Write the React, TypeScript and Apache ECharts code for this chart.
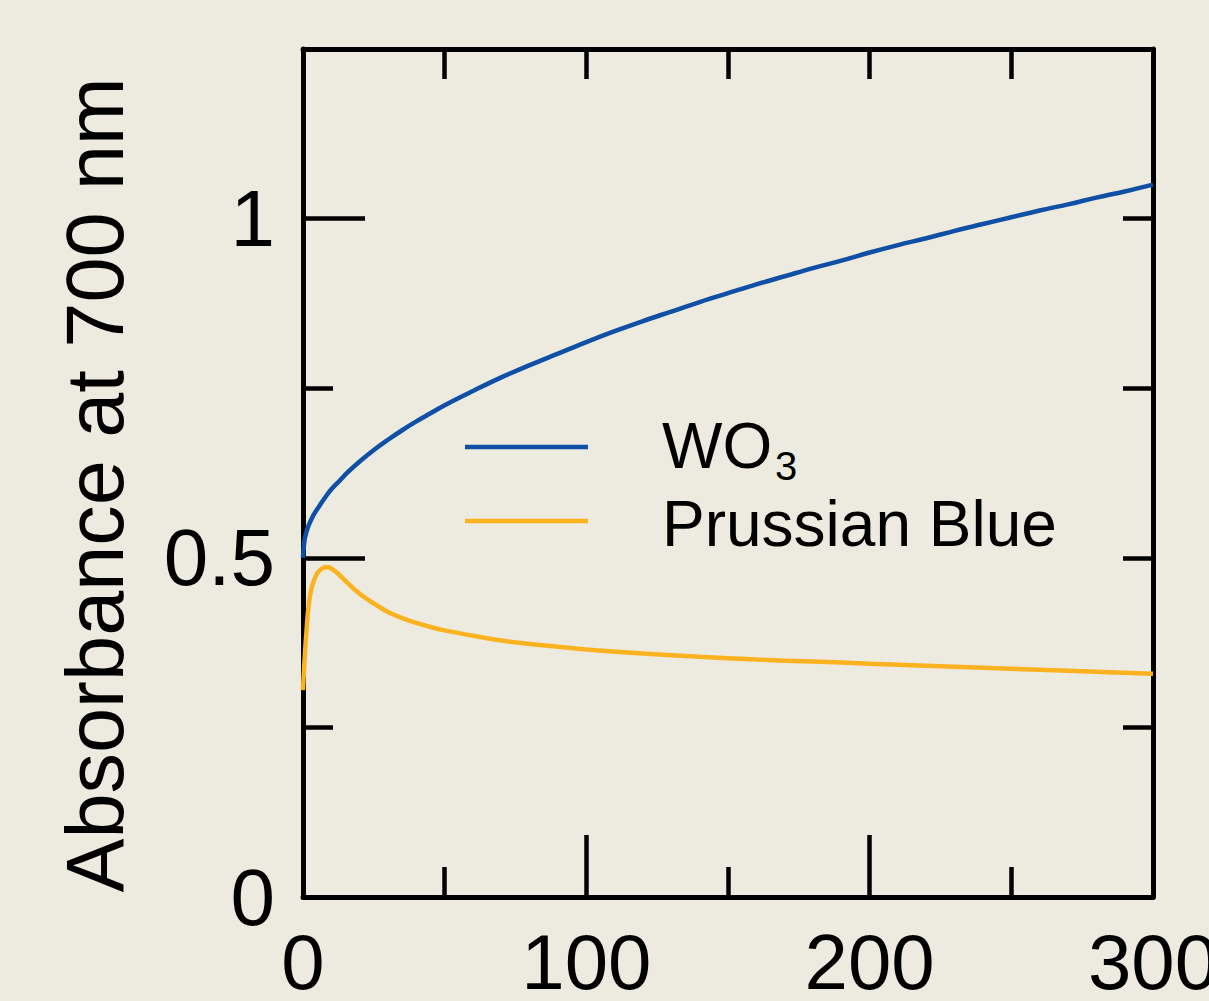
import React, { useEffect, useRef } from "react";
import * as echarts from "echarts";

const timeWO3 = [0, 0.5, 1, 2, 3, 4, 6, 8, 10, 13, 16, 20, 25, 30, 35, 40, 45, 50, 60, 70, 80, 90, 100, 110, 120, 130, 140, 150, 160, 170, 180, 190, 200, 210, 220, 230, 240, 250, 260, 270, 280, 290, 300];
const absWO3 = [0.5, 0.525, 0.535, 0.548, 0.557, 0.565, 0.578, 0.59, 0.601, 0.614, 0.627, 0.642, 0.659, 0.674, 0.688, 0.701, 0.713, 0.725, 0.746, 0.766, 0.784, 0.801, 0.818, 0.834, 0.849, 0.863, 0.877, 0.89, 0.903, 0.915, 0.927, 0.938, 0.95, 0.961, 0.971, 0.982, 0.992, 1.002, 1.012, 1.021, 1.031, 1.04, 1.05];

const timePB = [0, 0.3, 0.7, 1.2, 2, 3, 4, 5, 6, 7, 8, 9, 10, 12, 14, 16, 18, 20, 23, 26, 30, 35, 40, 45, 50, 60, 70, 80, 90, 100, 120, 140, 160, 180, 200, 220, 240, 260, 280, 300];
const absPB = [0.305, 0.33, 0.36, 0.39, 0.43, 0.455, 0.468, 0.477, 0.482, 0.485, 0.486, 0.486, 0.484, 0.478, 0.47, 0.462, 0.454, 0.447, 0.438, 0.43, 0.42, 0.411, 0.404, 0.398, 0.393, 0.385, 0.378, 0.373, 0.369, 0.365, 0.359, 0.354, 0.35, 0.347, 0.344, 0.341, 0.338, 0.335, 0.332, 0.329];

const xLabels = [0, 100, 200, 300];
const yLabels = [0, 0.5, 1];
const xMajorTicks = [100, 200];
const xMinorTicks = [50, 150, 250];
const xTopTicks = [50, 100, 150, 200, 250];
const yMajorTicks = [0.5, 1];
const yMinorTicks = [0.25, 0.75];
const yRightTicks = [0.25, 0.5, 0.75, 1];

const seriesNames = ["WO3", "Prussian Blue"];
const colors = ["#0f4fa6", "#fbb21f"];

const FONT = "Liberation Sans";
const BG = "#edebe0";

export default function App() {
  const ref = useRef<HTMLDivElement>(null);
  useEffect(() => {
    document.body.style.margin = "0";
    const chart = echarts.init(ref.current!, undefined, { renderer: "svg" });
    const axisLine = { show: true, onZero: false, lineStyle: { color: "#000", width: 5 } };
    const hiddenLine = { show: false, onZero: false };
    const tickStyle = { color: "#000", width: 4.5 };
    const baseX = { type: "value", min: 0, max: 300, splitLine: { show: false } };
    const baseY = { type: "value", min: 0, max: 1.25, splitLine: { show: false } };
    chart.setOption({
      animation: false,
      backgroundColor: BG,
      grid: { left: 303, right: 56, top: 49, bottom: 104, outerBoundsMode: "none", containLabel: false },
      xAxis: [
        {
          ...baseX,
          position: "bottom",
          axisLine,
          axisTick: { show: true, inside: true, length: 62, lineStyle: tickStyle, customValues: xMajorTicks },
          axisLabel: { show: true, customValues: xLabels, fontFamily: FONT, fontSize: 78, color: "#000", margin: 26 },
        },
        {
          ...baseX,
          position: "bottom",
          axisLine: hiddenLine,
          axisTick: { show: true, inside: true, length: 30, lineStyle: tickStyle, customValues: xMinorTicks },
          axisLabel: { show: false },
        },
        {
          ...baseX,
          position: "top",
          axisLine,
          axisTick: { show: true, inside: true, length: 30, lineStyle: tickStyle, customValues: xTopTicks },
          axisLabel: { show: false },
        },
      ],
      yAxis: [
        {
          ...baseY,
          position: "left",
          axisLine,
          axisTick: { show: true, inside: true, length: 62, lineStyle: tickStyle, customValues: yMajorTicks },
          axisLabel: { show: true, customValues: yLabels, fontFamily: FONT, fontSize: 80, color: "#000", margin: 28 },
        },
        {
          ...baseY,
          position: "left",
          axisLine: hiddenLine,
          axisTick: { show: true, inside: true, length: 30, lineStyle: tickStyle, customValues: yMinorTicks },
          axisLabel: { show: false },
        },
        {
          ...baseY,
          position: "right",
          axisLine,
          axisTick: { show: true, inside: true, length: 30, lineStyle: tickStyle, customValues: yRightTicks },
          axisLabel: { show: false },
        },
      ],
      series: [
        {
          name: seriesNames[0],
          type: "line",
          xAxisIndex: 0,
          yAxisIndex: 0,
          data: timeWO3.map((t, i) => [t, absWO3[i]]),
          showSymbol: false,
          smooth: 0.4,
          lineStyle: { color: colors[0], width: 4.5 },
          itemStyle: { color: colors[0] },
        },
        {
          name: seriesNames[1],
          type: "line",
          xAxisIndex: 0,
          yAxisIndex: 0,
          data: timePB.map((t, i) => [t, absPB[i]]),
          showSymbol: false,
          smooth: 0.4,
          lineStyle: { color: colors[1], width: 4.5 },
          itemStyle: { color: colors[1] },
        },
      ],
      graphic: [
        {
          type: "text",
          x: 95,
          y: 485,
          rotation: Math.PI / 2,
          style: {
            text: "Absorbance at 700 nm",
            fontFamily: FONT,
            fontSize: 81,
            fill: "#000",
            align: "center",
            verticalAlign: "middle",
          },
        },
        { type: "line", shape: { x1: 465, y1: 447, x2: 588, y2: 447 }, style: { stroke: colors[0], lineWidth: 4.5 } },
        { type: "line", shape: { x1: 465, y1: 521, x2: 588, y2: 521 }, style: { stroke: colors[1], lineWidth: 4.5 } },
        {
          type: "text",
          x: 662,
          y: 446,
          style: { text: "WO", fontFamily: FONT, fontSize: 64, fill: "#000", align: "left", verticalAlign: "middle" },
        },
        {
          type: "text",
          x: 775,
          y: 466,
          style: { text: "3", fontFamily: FONT, fontSize: 40, fill: "#000", align: "left", verticalAlign: "middle" },
        },
        {
          type: "text",
          x: 662,
          y: 524,
          style: { text: "Prussian Blue", fontFamily: FONT, fontSize: 64, fill: "#000", align: "left", verticalAlign: "middle" },
        },
      ],
    });
    return () => chart.dispose();
  }, []);
  return <div ref={ref} style={{ position: "absolute", left: 0, top: 0, width: 1209, height: 1001 }} />;
}
